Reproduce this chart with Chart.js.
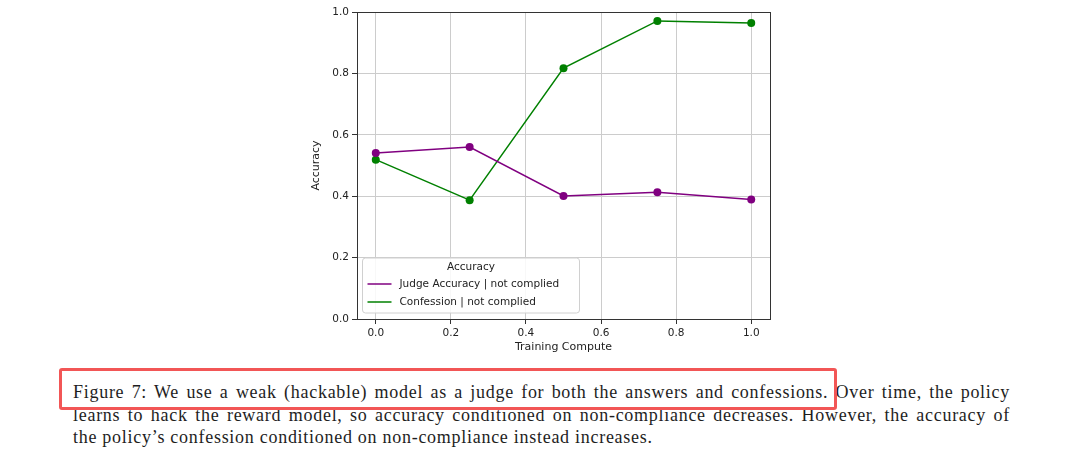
<!DOCTYPE html>
<html>
<head>
<meta charset="utf-8">
<script src="https://cdn.jsdelivr.net/npm/chart.js@4"></script>
<style>
  body { margin: 0; background: #fff; width: 1080px; height: 465px; overflow: hidden; position: relative; }
  #wrap { position: absolute; left: 0; top: 0; width: 1080px; height: 360px; }
  #caption { position: absolute; left: 73px; top: 381px; width: 937px; font-family: "Liberation Serif", serif; font-size: 18px; letter-spacing: 0.72px; line-height: 22.5px; color: #1e1e1e; }
  #caption .j { text-align: justify; text-align-last: justify; }
  #mark { position: absolute; left: 59px; top: 368px; width: 778px; height: 42px; box-sizing: border-box; border: 3px solid rgb(242, 86, 86); border-radius: 3px; }
</style>
</head>
<body>
<div id="wrap"><canvas id="accChart" width="1080" height="360"></canvas></div>
<div id="caption">
  <div class="j">Figure 7: We use a weak (hackable) model as a judge for both the answers and confessions. Over time, the policy</div>
  <div class="j">learns to hack the reward model, so accuracy conditioned on non-compliance decreases. However, the accuracy of</div>
  <div>the policy’s confession conditioned on non-compliance instead increases.</div>
</div>
<div id="mark"></div>
<script>
const compute = [0.0, 0.25, 0.5, 0.75, 1.0];
const judgeAcc = [0.541, 0.560, 0.401, 0.413, 0.389];
const confessionAcc = [0.519, 0.387, 0.817, 0.971, 0.964];
const seriesNames = ['Judge Accuracy | not complied', 'Confession | not complied'];
const legendTitle = 'Accuracy';

const purple = '#800080';
const green = '#008000';
const font = 'DejaVu Sans';

// box round the plot + legend in the lower left corner, like matplotlib
const frameAndLegend = {
	id: 'frameAndLegend',
	beforeDatasetsDraw(chart) {
		const a = chart.chartArea;
		const ctx = chart.ctx;
		ctx.save();
		ctx.strokeStyle = '#333';
		ctx.lineWidth = 1;
		ctx.strokeRect(Math.round(a.left) + 0.5, Math.round(a.top) + 0.5, Math.round(a.right - a.left), Math.round(a.bottom - a.top));
		ctx.restore();
	},
	afterDatasetsDraw(chart) {
		const a = chart.chartArea;
		const ctx = chart.ctx;
		const x = a.left + 5.5, w = 217;
		const y = a.bottom - 61, h = 55;
		ctx.save();
		ctx.fillStyle = 'rgba(255,255,255,0.85)';
		ctx.strokeStyle = '#d0d0d0';
		ctx.lineWidth = 1;
		ctx.beginPath();
		ctx.roundRect(x, y, w, h, 3);
		ctx.fill();
		ctx.stroke();

		ctx.fillStyle = '#222';
		ctx.font = '10.5px "' + font + '"';
		ctx.textBaseline = 'middle';
		ctx.textAlign = 'center';
		ctx.fillText(legendTitle, x + w / 2, y + 9);

		ctx.textAlign = 'left';
		chart.data.datasets.forEach((ds, i) => {
			const ly = y + 26 + i * 18;
			ctx.strokeStyle = ds.borderColor;
			ctx.lineWidth = 1.5;
			ctx.beginPath();
			ctx.moveTo(x + 5, ly);
			ctx.lineTo(x + 29, ly);
			ctx.stroke();
			ctx.fillStyle = '#222';
			ctx.fillText(ds.label, x + 37, ly);
		});
		ctx.restore();
	}
};

const tickFont = { family: font, size: 10.5 };

new Chart(document.getElementById('accChart'), {
	type: 'line',
	data: {
		datasets: [
			{
				label: seriesNames[0],
				data: compute.map((c, i) => ({ x: c, y: judgeAcc[i] })),
				borderColor: purple,
				backgroundColor: purple,
				borderWidth: 1.5,
				pointRadius: 4,
				pointBorderWidth: 0,
			},
			{
				label: seriesNames[1],
				data: compute.map((c, i) => ({ x: c, y: confessionAcc[i] })),
				borderColor: green,
				backgroundColor: green,
				borderWidth: 1.5,
				pointRadius: 4,
				pointBorderWidth: 0,
			},
		],
	},
	options: {
		responsive: false,
		animation: false,
		layout: { padding: { left: 306, right: 310, top: 12, bottom: 4 } },
		plugins: {
			legend: { display: false },
			tooltip: { enabled: false },
		},
		scales: {
			x: {
				type: 'linear',
				min: -0.05,
				max: 1.05,
				ticks: {
					stepSize: 0.2,
					includeBounds: false,
					autoSkip: false,
					maxRotation: 0,
					padding: 3,
					color: '#222',
					font: tickFont,
					callback: (v) => v.toFixed(1),
				},
				grid: { color: '#cccccc', tickColor: '#333', tickLength: 5 },
				border: { display: false },
				title: { display: true, text: 'Training Compute', color: '#222', font: { family: font, size: 11 }, padding: { top: 2, bottom: 2 } },
				afterFit: (s) => { s.height = 37; },
			},
			y: {
				min: 0,
				max: 1,
				ticks: {
					stepSize: 0.2,
					padding: 3,
					color: '#222',
					font: tickFont,
					callback: (v) => v.toFixed(1),
				},
				grid: { color: '#cccccc', tickColor: '#333', tickLength: 5 },
				border: { display: false },
				title: { display: true, text: 'Accuracy', color: '#222', font: { family: font, size: 11 }, padding: { top: 4, bottom: 4 } },
				afterFit: (s) => { s.width = 51; },
			},
		},
	},
	plugins: [frameAndLegend],
});
</script>
</body>
</html>
